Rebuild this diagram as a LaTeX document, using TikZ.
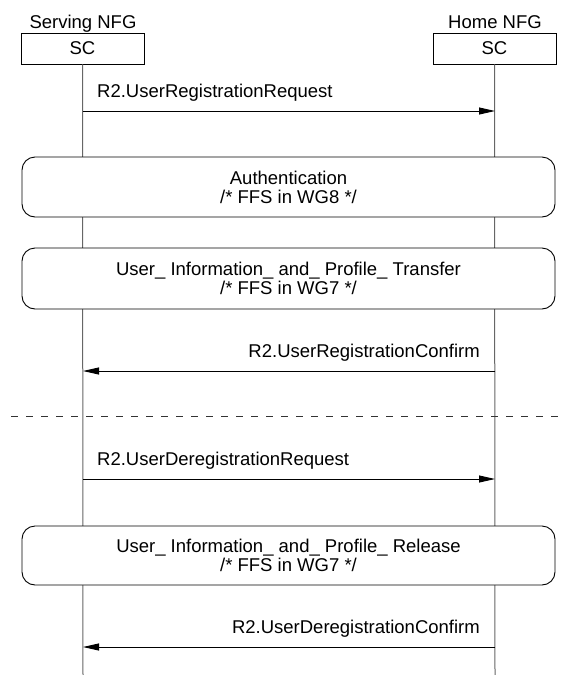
\documentclass[tikz,border=0pt]{standalone}
\usepackage{fontspec}
\setmainfont{Liberation Sans}
\usetikzlibrary{arrows.meta}
\begin{document}
\begin{tikzpicture}[x=1pt,y=-1pt,
  txt/.style={font=\fontsize{18.5}{19}\selectfont, inner sep=0pt},
  entity/.style={draw=black, line width=0.9pt, minimum width=123pt, minimum height=31pt, inner sep=0pt, txt},
  life/.style={draw=black!60, line width=1pt},
  msg/.style={draw=black, line width=0.9pt, -{Triangle[length=16pt,width=7pt]}},
  act/.style={draw=black, fill=white, line width=0.9pt, rounded corners=13pt, minimum width=533pt, inner sep=0pt, txt, align=center},
  sep/.style={draw=black!80, line width=0.8pt, dash pattern=on 7pt off 8pt},
]
\useasboundingbox (0,0) rectangle (562,675);

% headers
\node[txt, anchor=base] (sname) at (83,28) {Serving NFG};
\node[txt, anchor=base] (hname) at (495,28) {Home NFG};
\node[entity] (sc) at (82.5,48.5) {SC};
\node[entity] (hc) at (494.5,48.5) {SC};

% lifelines
\coordinate (send) at (83,675);
\coordinate (hend) at (495,675);
\draw[life] (sc.south) -- (send);
\draw[life] (hc.south) -- (hend);

% message 1
\coordinate (s1) at (83,111);
\coordinate (h1) at (495,111);
\draw[msg] (s1) -- (h1);
\node[txt, anchor=base west] (m1) at (97,97) {R2.UserRegistrationRequest};

% activity boxes
\node[act, minimum height=60pt] (auth) at (288.5,187) {Authentication\\/* FFS in WG8 */};
\node[act, minimum height=61pt] (uipt) at (288.5,278.5) {User\_ Information\_ and\_ Profile\_ Transfer\\/* FFS in WG7 */};

% message 2
\coordinate (s2) at (83,371);
\coordinate (h2) at (495,371);
\draw[msg] (h2) -- (s2);
\node[txt, anchor=base east] (m2) at (480,357) {R2.UserRegistrationConfirm};

% separator
\coordinate (dl) at (11,416);
\coordinate (dr) at (562,416);
\draw[sep] (dl) -- (dr);

% message 3
\coordinate (s3) at (83,479);
\coordinate (h3) at (495,479);
\draw[msg] (s3) -- (h3);
\node[txt, anchor=base west] (m3) at (97,465) {R2.UserDeregistrationRequest};

\node[act, minimum height=59pt] (uipr) at (288.5,555.5) {User\_ Information\_ and\_ Profile\_ Release\\/* FFS in WG7 */};

% message 4
\coordinate (s4) at (83,647);
\coordinate (h4) at (495,647);
\draw[msg] (h4) -- (s4);
\node[txt, anchor=base east] (m4) at (480,633) {R2.UserDeregistrationConfirm};
\end{tikzpicture}
\end{document}
